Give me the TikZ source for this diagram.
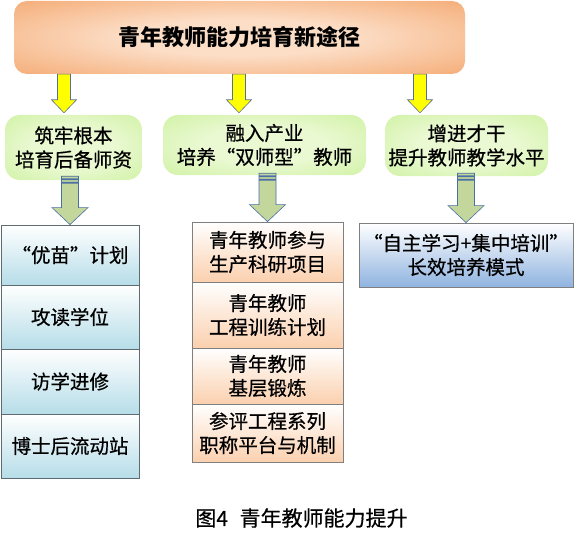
\documentclass[tikz,border=0pt]{standalone}
\usepackage{fontspec}
\setmainfont{Noto Sans CJK SC}
\newfontfamily\medcjk[FakeBold=0.6]{Noto Sans CJK SC}
\usetikzlibrary{calc}
\definecolor{orIn}{HTML}{FCDEC7}
\definecolor{orOut}{HTML}{F29C5C}
\definecolor{grIn}{HTML}{EAF9D2}
\definecolor{grOut}{HTML}{C6EF94}
\definecolor{blLight}{HTML}{B6DDE8}
\definecolor{pcLight}{HTML}{FBD0AE}
\definecolor{blMid}{HTML}{8FB3E0}
\definecolor{yArrow}{HTML}{FFFF00}
\definecolor{yEdge}{HTML}{5A6E96}
\definecolor{gArrow}{HTML}{C3D69B}
\definecolor{gEdge}{HTML}{4A6FA5}
\definecolor{boxEdge}{HTML}{7F7F7F}
\definecolor{stackEdge}{HTML}{5F6B73}
\pgfdeclareradialshading{orglow}{\pgfpointorigin}{color(0bp)=(orIn); color(12bp)=(orIn); color(44bp)=(orOut); color(50bp)=(orOut)}
\pgfdeclareradialshading{grglow}{\pgfpointorigin}{color(0bp)=(grIn); color(15bp)=(grIn); color(45bp)=(grOut); color(50bp)=(grOut)}
\newcommand\yarr[2]{%
  \path[yarrowstyle] let \p1=#1, \p2=#2 in
  (\x1-6.5pt,\y1) -- (\x1+6.5pt,\y1) -- (\x1+6.5pt,\y2+15pt) -- (\x1+12.5pt,\y2+15pt)
  -- (\x1,\y2+2pt) -- (\x1-12.5pt,\y2+15pt) -- (\x1-6.5pt,\y2+15pt) -- cycle;}
\newcommand\garr[2]{%
  \path[garrowstyle] let \p1=#1, \p2=#2 in
  (\x2-8.5pt,\y1) rectangle (\x2+8.5pt,\y1-2.5pt)
  (\x2-8.5pt,\y1-3.5pt) rectangle (\x2+8.5pt,\y1-6pt)
  (\x2-8.5pt,\y1-7pt) -- (\x2+8.5pt,\y1-7pt) -- (\x2+8.5pt,\y2+17pt) -- (\x2+18pt,\y2+17pt)
  -- (\x2,\y2) -- (\x2-18pt,\y2+17pt) -- (\x2-8.5pt,\y2+17pt) -- cycle;}
\tikzset{
  txt/.style={font=\medcjk\fontsize{19.5}{24}\selectfont, align=center, inner sep=0pt},
  topbox/.style={shading=orglow, rounded corners=13pt, minimum width=451pt, minimum height=73pt, inner sep=0pt,
    font=\fontsize{22}{26}\selectfont\bfseries},
  greenbox/.style={txt, shading=grglow, rounded corners=15pt},
  leftbox/.style={txt, draw=stackEdge, line width=0.8pt, top color=white, bottom color=blLight, minimum width=138pt},
  midbox/.style={txt, draw=boxEdge, line width=0.8pt, top color=white, bottom color=pcLight, minimum width=151pt},
  rightbox/.style={txt, draw=boxEdge, line width=0.8pt, top color=white, bottom color=blMid},
  yarrowstyle/.style={fill=yArrow, draw=yEdge, line width=0.6pt, line join=miter},
  garrowstyle/.style={fill=gArrow, draw=gEdge, line width=0.6pt, line join=miter},
}
\begin{document}
\begin{tikzpicture}[x=1pt,y=-1pt]
\useasboundingbox (0,0) rectangle (580,540);
% top
\node[topbox] (top) at (239.5,37.5) {青年教师能力培育新途径};
% green boxes
\node[greenbox, minimum width=137pt, minimum height=65pt] (g1) at (73.5,147.5) {筑牢根本\\培育后备师资};
\node[greenbox, minimum width=203pt, minimum height=60pt] (g2) at (264.5,145) {融入产业\\培养“双师型”教师};
\node[greenbox, minimum width=163pt, minimum height=61pt] (g3) at (466.5,145.5) {增进才干\\提升教师教学水平};
% left stack
\node[leftbox, minimum height=60pt] (s1) at (70,255) {“优苗”计划};
\node[leftbox, minimum height=64pt] (s2) at (70,317) {攻读学位};
\node[leftbox, minimum height=65pt] (s3) at (70,381.5) {访学进修};
\node[leftbox, minimum height=64pt] (s4) at (70,446) {博士后流动站};
% middle stack
\node[midbox, minimum height=60pt] (m1) at (267.5,252) {青年教师参与\\生产科研项目};
\node[midbox, minimum height=66pt] (m2) at (267.5,315) {青年教师\\工程训练计划};
\node[midbox, minimum height=56pt] (m3) at (267.5,376) {青年教师\\基层锻炼};
\node[midbox, minimum height=58pt] (m4) at (267.5,433) {参评工程系列\\职称平台与机制};
% right box
\node[rightbox, minimum width=214pt, minimum height=64pt] (r1) at (466,255) {“自主学习+集中培训”\\长效培养模式};
% caption
\node[font=\medcjk\fontsize{21}{24}\selectfont, inner sep=0pt] (cap) at (301.5,518) {图4\hspace{0.55em}青年教师能力提升};
% yellow arrows
\yarr{(top.south -| 64,0)}{(g1.north -| 64,0)}
\yarr{(top.south -| 239,0)}{(g2.north -| 239,0)}
\yarr{(top.south -| 420,0)}{(g3.north -| 420,0)}
% green arrows
\garr{($(g1.south -| s1.north)+(0,-4)$)}{(s1.north)}
\garr{($(g2.south -| m1.north)+(0,-2)$)}{(m1.north)}
\garr{($(g3.south -| r1.north)+(0,-3)$)}{(r1.north)}
\end{tikzpicture}
\end{document}
